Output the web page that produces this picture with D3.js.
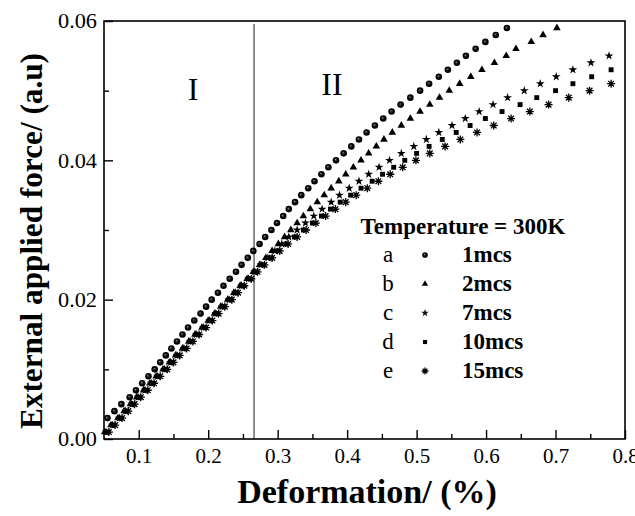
<!DOCTYPE html>
<html><head><meta charset="utf-8">
<script src="https://cdn.jsdelivr.net/npm/d3@7"></script>
<style>
body{margin:0;background:#fff}
svg{display:block}
text{font-family:"Liberation Serif","Times New Roman",serif;fill:#000}
</style></head>
<body><svg id="chart" width="635" height="516"></svg>
<script>
// ---------- data ----------
const seriesLetters = ["a","b","c","d","e"];
const seriesLabels = ["1mcs","2mcs","7mcs","10mcs","15mcs"];
const seriesShapes = ["circle","triangle","star","square","asterisk"];
const legendTitle = "Temperature = 300K";
const regionLabels = ["I","II"];
const regionBoundary = 0.266;
const xTicks = [0.1,0.2,0.3,0.4,0.5,0.6,0.7,0.8];
const xMinorTicks = [0.15,0.25,0.35,0.45,0.55,0.65,0.75];
const yTicks = [0.00,0.02,0.04,0.06];
const yMinorTicks = [0.01,0.03,0.05];

const forceA = [0.003,0.004,0.005,0.006,0.007,0.008,0.009,0.010,0.011,0.012,
  0.013,0.014,0.015,0.016,0.017,0.018,0.019,0.020,0.021,0.022,
  0.023,0.024,0.025,0.026,0.027,0.028,0.029,0.030,0.031,0.032,
  0.033,0.034,0.035,0.036,0.037,0.038,0.039,0.040,0.041,0.042,
  0.043,0.044,0.045,0.046,0.047,0.048,0.049,0.050,0.051,0.052,
  0.053,0.054,0.055,0.056,0.057,0.058,0.059];
const deformA = [0.055,0.065,0.075,0.087,0.096,0.105,0.114,0.123,0.131,0.139,
  0.147,0.155,0.163,0.171,0.180,0.189,0.197,0.205,0.214,0.222,
  0.231,0.240,0.248,0.257,0.265,0.274,0.282,0.291,0.299,0.308,
  0.316,0.325,0.334,0.344,0.353,0.363,0.373,0.384,0.395,0.406,
  0.417,0.428,0.440,0.452,0.464,0.477,0.491,0.505,0.518,0.532,
  0.545,0.558,0.571,0.585,0.599,0.614,0.630];

const forceB = [0.001,0.002,0.003,0.004,0.005,0.006,0.007,0.008,0.009,0.010,
  0.011,0.012,0.013,0.014,0.015,0.016,0.017,0.018,0.019,0.020,
  0.021,0.022,0.023,0.024,0.025,0.026,0.027,0.028,0.029,0.030,
  0.031,0.032,0.033,0.034,0.035,0.036,0.037,0.038,0.039,0.040,
  0.041,0.042,0.043,0.044,0.045,0.046,0.047,0.048,0.049,0.050,
  0.051,0.052,0.053,0.054,0.055,0.056,0.057,0.058,0.059];
const deformB = [0.051,0.060,0.070,0.079,0.088,0.097,0.107,0.116,0.125,0.135,
  0.144,0.153,0.163,0.172,0.181,0.191,0.200,0.209,0.218,0.228,
  0.237,0.246,0.256,0.265,0.274,0.283,0.292,0.301,0.310,0.319,
  0.328,0.337,0.347,0.357,0.367,0.377,0.388,0.398,0.409,0.420,
  0.431,0.442,0.453,0.465,0.478,0.491,0.505,0.519,0.533,0.547,
  0.562,0.578,0.594,0.612,0.629,0.643,0.665,0.682,0.702];

const forceC = [0.001,0.002,0.003,0.004,0.005,0.006,0.007,0.008,0.009,0.010,
  0.011,0.012,0.013,0.014,0.015,0.016,0.017,0.018,0.019,0.020,
  0.021,0.022,0.023,0.024,0.025,0.026,0.027,0.028,0.029,0.030,
  0.031,0.032,0.033,0.034,0.035,0.036,0.037,0.038,0.039,0.040,
  0.041,0.042,0.043,0.044,0.045,0.046,0.047,0.048,0.049,0.050,
  0.051,0.052,0.053,0.054,0.055];
const deformC = [0.053,0.062,0.072,0.081,0.090,0.099,0.109,0.118,0.127,0.137,
  0.146,0.155,0.165,0.174,0.183,0.193,0.202,0.211,0.220,0.230,
  0.239,0.248,0.258,0.267,0.276,0.286,0.296,0.306,0.316,0.328,
  0.340,0.352,0.364,0.377,0.389,0.403,0.417,0.431,0.446,0.461,
  0.478,0.496,0.514,0.532,0.551,0.570,0.590,0.610,0.631,0.655,
  0.678,0.701,0.725,0.751,0.777];

const forceD = [0.001,0.002,0.003,0.004,0.005,0.006,0.007,0.008,0.009,0.010,
  0.011,0.012,0.013,0.014,0.015,0.016,0.017,0.018,0.019,0.020,
  0.021,0.022,0.023,0.024,0.025,0.026,0.027,0.028,0.029,0.030,
  0.031,0.032,0.033,0.034,0.035,0.036,0.037,0.038,0.039,0.040,
  0.041,0.042,0.043,0.044,0.045,0.046,0.047,0.048,0.049,0.050,
  0.051,0.052,0.053];
const deformD = [0.055,0.064,0.074,0.083,0.092,0.101,0.111,0.120,0.129,0.139,
  0.148,0.157,0.167,0.176,0.185,0.195,0.204,0.213,0.222,0.232,
  0.241,0.250,0.260,0.269,0.279,0.290,0.301,0.312,0.324,0.337,
  0.350,0.363,0.376,0.390,0.405,0.420,0.436,0.451,0.467,0.483,
  0.500,0.518,0.537,0.557,0.577,0.599,0.623,0.649,0.673,0.700,
  0.725,0.752,0.780];

const forceE = [0.001,0.002,0.003,0.004,0.005,0.006,0.007,0.008,0.009,0.010,
  0.011,0.012,0.013,0.014,0.015,0.016,0.017,0.018,0.019,0.020,
  0.021,0.022,0.023,0.024,0.025,0.026,0.027,0.028,0.029,0.030,
  0.031,0.032,0.033,0.034,0.035,0.036,0.037,0.038,0.039,0.040,
  0.041,0.042,0.043,0.044,0.045,0.046,0.047,0.048,0.049,0.050,
  0.051];
const deformE = [0.057,0.066,0.076,0.085,0.094,0.103,0.113,0.122,0.131,0.141,
  0.150,0.159,0.169,0.178,0.187,0.197,0.206,0.215,0.224,0.234,
  0.243,0.252,0.262,0.271,0.281,0.292,0.303,0.315,0.328,0.341,
  0.355,0.369,0.383,0.398,0.413,0.429,0.445,0.462,0.480,0.499,
  0.519,0.541,0.563,0.587,0.611,0.636,0.663,0.690,0.719,0.749,
  0.780];

const seriesDeform = [deformA, deformB, deformC, deformD, deformE];
const seriesForce = [forceA, forceB, forceC, forceD, forceE];

// ---------- drawing ----------
const svg = d3.select("#chart");
const x = d3.scaleLinear().domain([0.05, 0.8]).range([104, 625]);
const y = d3.scaleLinear().domain([0, 0.06]).range([439, 21]);

const defs = svg.append("defs");
const grad = defs.append("radialGradient").attr("id","ball")
  .attr("cx","0.5").attr("cy","0.5").attr("r","0.5").attr("fx","0.4").attr("fy","0.38");
grad.append("stop").attr("offset","0%").attr("stop-color","#b0b0b0");
grad.append("stop").attr("offset","22%").attr("stop-color","#3a3a3a");
grad.append("stop").attr("offset","55%").attr("stop-color","#080808");
grad.append("stop").attr("offset","100%").attr("stop-color","#000");

const asteriskSym = {
  draw(ctx, size) {
    const r = Math.sqrt(size) * 0.62;
    for (let i = 0; i < 4; i++) {
      const a = i * Math.PI / 4;
      ctx.moveTo(-r * Math.cos(a), -r * Math.sin(a));
      ctx.lineTo(r * Math.cos(a), r * Math.sin(a));
    }
  }
};

function drawMarker(g, shape, cx, cy, scale) {
  const s = scale || 1;
  if (shape === "circle") {
    g.append("circle").attr("cx", cx).attr("cy", cy).attr("r", 3.3 * s)
      .attr("fill", "url(#ball)");
  } else if (shape === "triangle") {
    g.append("path").attr("d", d3.symbol(d3.symbolTriangle, 25 * s * s)())
      .attr("transform", `translate(${cx},${cy})`).attr("fill", "#000");
  } else if (shape === "star") {
    g.append("path").attr("d", d3.symbol(d3.symbolStar, 24 * s * s)())
      .attr("transform", `translate(${cx},${cy})`).attr("fill", "#000");
  } else if (shape === "square") {
    g.append("path").attr("d", d3.symbol(d3.symbolSquare, 24 * s * s)())
      .attr("transform", `translate(${cx},${cy})`).attr("fill", "#000");
  } else {
    g.append("path").attr("d", d3.symbol(asteriskSym, 42 * s * s)())
      .attr("transform", `translate(${cx},${cy})`)
      .attr("fill", "none").attr("stroke", "#000").attr("stroke-width", 1.3);
  }
}

// region boundary line
svg.append("line")
  .attr("x1", x(regionBoundary)).attr("x2", x(regionBoundary))
  .attr("y1", 24).attr("y2", y(0))
  .attr("stroke", "#333").attr("stroke-width", 1.1);

// data markers
const marks = svg.append("g");
seriesDeform.forEach((dx, i) => {
  const g = marks.append("g");
  dx.forEach((xv, j) => drawMarker(g, seriesShapes[i], x(xv), y(seriesForce[i][j])));
});

// axes
svg.append("g").attr("transform", `translate(0,${y(0)})`)
  .call(d3.axisBottom(x).tickValues(xTicks).tickSize(-9).tickPadding(9)
    .tickFormat(d3.format(".1f")));
svg.append("g").attr("transform", `translate(0,${y(0)})`)
  .call(d3.axisBottom(x).tickValues(xMinorTicks).tickSize(-5).tickFormat(""));
const yAx = svg.append("g").attr("transform", `translate(${x(0.05)},0)`)
  .call(d3.axisLeft(y).tickValues(yTicks).tickSize(-9).tickPadding(7)
    .tickFormat(d3.format(".2f")));
svg.append("g").attr("transform", `translate(${x(0.05)},0)`)
  .call(d3.axisLeft(y).tickValues(yMinorTicks).tickSize(-5).tickFormat(""));
svg.selectAll(".domain").remove();
svg.selectAll(".tick line").attr("stroke", "#000").attr("stroke-width", 1.4);
svg.selectAll(".tick text").style("font-size", "21px")
  .style("font-family", '"Liberation Serif","Times New Roman",serif').attr("fill", "#000");
yAx.selectAll(".tick text").attr("textLength", 39).attr("lengthAdjust", "spacingAndGlyphs");

// frame
svg.append("rect")
  .attr("x", x(0.05)).attr("y", y(0.06))
  .attr("width", x(0.8) - x(0.05)).attr("height", y(0) - y(0.06))
  .attr("fill", "none").attr("stroke", "#000").attr("stroke-width", 1.6);

// region labels
svg.append("text").attr("x", 193).attr("y", 100).attr("text-anchor", "middle")
  .style("font-size", "32px").text(regionLabels[0]);
svg.append("text").attr("x", 332).attr("y", 95).attr("text-anchor", "middle")
  .style("font-size", "32px").text(regionLabels[1]);

// legend
const leg = svg.append("g");
leg.append("text").attr("x", 463).attr("y", 234).attr("text-anchor", "middle")
  .style("font-size", "23px").style("font-weight", "bold").text(legendTitle);
seriesLetters.forEach((l, i) => {
  const by = 262 + i * 29;
  leg.append("text").attr("x", 388).attr("y", by).attr("text-anchor", "middle")
    .style("font-size", "23px").text(l);
  drawMarker(leg, seriesShapes[i], 425, by - 7, 0.85);
  leg.append("text").attr("x", 462).attr("y", by)
    .style("font-size", "23px").style("font-weight", "bold").text(seriesLabels[i]);
});

// axis titles
svg.append("text").attr("x", 367).attr("y", 503).attr("text-anchor", "middle")
  .style("font-size", "34px").style("font-weight", "bold").text("Deformation/ (%)");
svg.append("text").attr("transform", "translate(42,241) rotate(-90)")
  .attr("text-anchor", "middle")
  .attr("textLength", 376).attr("lengthAdjust", "spacingAndGlyphs")
  .style("font-size", "31px").style("font-weight", "bold").text("External applied force/ (a.u)");
</script>
</body></html>
